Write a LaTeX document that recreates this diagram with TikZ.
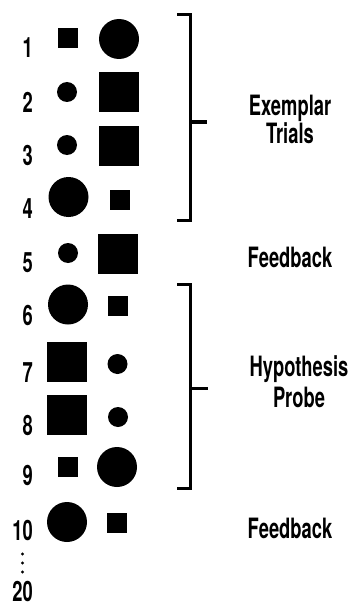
\documentclass[tikz,border=0pt]{standalone}
\usepackage{fontspec}
\setmainfont{TeX Gyre Heros}[FakeStretch=0.655]
\begin{document}
\begin{tikzpicture}[x=1pt,y=-1pt,
  bigdot/.style={circle,fill=black,inner sep=0pt,minimum size=40pt},
  smalldot/.style={circle,fill=black,inner sep=0pt,minimum size=20pt},
  bigsq/.style={rectangle,fill=black,inner sep=0pt,minimum size=40pt},
  smallsq/.style={rectangle,fill=black,inner sep=0pt,minimum size=20pt},
  num/.style={anchor=base east,inner sep=0pt,font=\fontsize{28}{28}\selectfont\bfseries},
  lbl/.style={anchor=base,inner sep=0pt,font=\fontsize{28}{28}\selectfont\bfseries},
  lbltwo/.style={anchor=north,inner sep=0pt,align=center,
    font=\fontsize{28}{#1}\selectfont\bfseries},
  brk/.style={line width=3pt,line cap=butt,line join=miter}]
\useasboundingbox (0,0) rectangle (349,607);

% trial numbers
\node[num] (n1)  at (33,58)  {1};
\node[num] (n2)  at (33,113) {2};
\node[num] (n3)  at (33,165) {3};
\node[num] (n4)  at (33,218) {4};
\node[num] (n5)  at (33,272) {5};
\node[num] (n6)  at (33,325) {6};
\node[num] (n7)  at (33,382) {7};
\node[num] (n8)  at (33,435) {8};
\node[num] (n9)  at (33,485) {9};
\node[num] (n10) at (33,540) {10};
\node[num] (n20) at (33,601) {20};
\foreach \yy/\nm in {554/d1,563/d2,572/d3}
  \fill (22.5,\yy) circle (1.6pt) coordinate (\nm);

% stimulus pairs
\node[smallsq]  (a1)  at (68,38)    {};
\node[bigdot]   (b1)  at (119,39)   {};
\node[smalldot] (a2)  at (67,92)    {};
\node[bigsq]    (b2)  at (119,92)   {};
\node[smalldot] (a3)  at (67,145)   {};
\node[bigsq]    (b3)  at (119,146)  {};
\node[bigdot]   (a4)  at (68.5,197) {};
\node[smallsq]  (b4)  at (120,200)  {};
\node[smalldot] (a5)  at (68,253)   {};
\node[bigsq]    (b5)  at (118,253.5){};
\node[bigdot]   (a6)  at (68,304.5) {};
\node[smallsq]  (b6)  at (118,306)  {};
\node[bigsq]    (a7)  at (67,361.5) {};
\node[smalldot] (b7)  at (117.5,364){};
\node[bigsq]    (a8)  at (67,415)   {};
\node[smalldot] (b8)  at (118,417)  {};
\node[smallsq]  (a9)  at (68,467)   {};
\node[bigdot]   (b9)  at (117,467)  {};
\node[bigdot]   (a10) at (67,522)   {};
\node[smallsq]  (b10) at (117,523)  {};

% brackets
\coordinate (t1) at (177,15);
\coordinate (t2) at (190,15);
\coordinate (t3) at (190,220);
\coordinate (t4) at (177,220);
\coordinate (tm) at (190,122);
\coordinate (tt) at (207,122);
\draw[brk] (t1) -- (t2) -- (t3) -- (t4);
\draw[brk] (tm) -- (tt);
\coordinate (h1) at (177,284);
\coordinate (h2) at (190,284);
\coordinate (h3) at (190,488);
\coordinate (h4) at (177,488);
\coordinate (hm) at (190,388);
\coordinate (ht) at (208,388);
\draw[brk] (h1) -- (h2) -- (h3) -- (h4);
\draw[brk] (hm) -- (ht);

% phase labels
\node[lbltwo=24] (ex) at (290,95)  {Exemplar\\Trials};
\node[lbl]       (f1) at (290,267) {Feedback};
\node[lbltwo=31] (hy) at (299,355) {Hypothesis\\Probe};
\node[lbl]       (f2) at (290,538) {Feedback};
\end{tikzpicture}
\end{document}
